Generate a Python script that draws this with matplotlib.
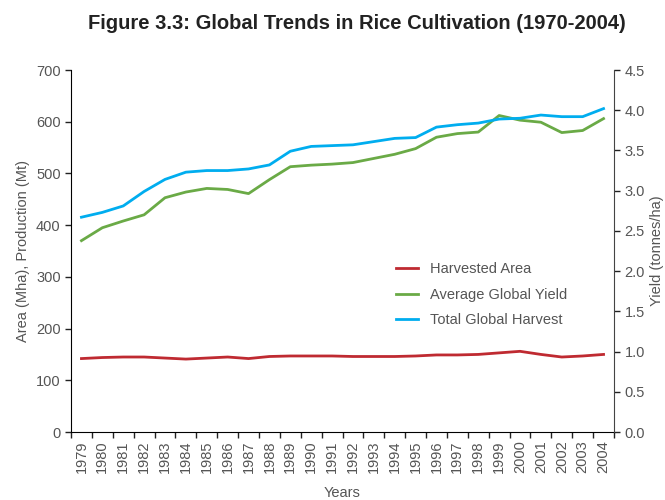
import matplotlib
matplotlib.use("Agg")
import matplotlib.pyplot as plt
import numpy as np
from matplotlib.ticker import FixedLocator, FormatStrFormatter

plt.rcParams['font.family'] = ['Liberation Sans', 'DejaVu Sans']

# --- data ---
years = list(range(1979, 2005))
harvested_area = [142, 144, 145, 145, 143, 141, 143, 145, 142, 146, 147, 147, 147,
                  146, 146, 146, 147, 149, 149, 150, 153, 156, 150, 145, 147, 150]
avg_yield_line = [370, 395, 408, 420, 453, 464, 471, 469, 461, 488, 513, 516, 518,
                  521, 529, 537, 548, 570, 577, 580, 612, 603, 599, 579, 583, 606]
# blue series is drawn against the right (t/ha) axis
total_harvest = [2.67, 2.73, 2.81, 2.99, 3.14, 3.23, 3.25, 3.25, 3.27, 3.32, 3.49, 3.55, 3.56,
                 3.57, 3.61, 3.65, 3.66, 3.79, 3.82, 3.84, 3.89, 3.90, 3.94, 3.92, 3.92, 4.02]

RED = '#bf2a31'
GREEN = '#6aaa46'
BLUE = '#00adef'
TXT = '#555555'

fig = plt.figure(figsize=(6.65, 5.0), dpi=100)
ax = fig.add_axes([0.1068, 0.136, 0.8165, 0.724])
ax2 = ax.twinx()

x = np.arange(len(years))
l1, = ax.plot(x, harvested_area, color=RED, lw=2.0, label='Harvested Area')
l2, = ax.plot(x, avg_yield_line, color=GREEN, lw=2.0, label='Average Global Yield')
l3, = ax2.plot(x, total_harvest, color=BLUE, lw=2.0, label='Total Global Harvest')

ax.set_xlim(-0.5, len(years) - 0.5)
ax.set_ylim(0, 700)
ax2.set_ylim(0, 4.5)

# --- axes formatting ---
ax.set_yticks(np.arange(0, 701, 100))
ax2.set_yticks(np.arange(0, 4.51, 0.5))
ax2.yaxis.set_major_formatter(FormatStrFormatter('%.1f'))

# tick marks between categories, labels centred on each year
ax.xaxis.set_major_locator(FixedLocator(np.arange(-0.5, len(years), 1.0)))
ax.xaxis.set_major_formatter(plt.NullFormatter())
ax.xaxis.set_minor_locator(FixedLocator(x))
ax.set_xticklabels([str(y) for y in years], minor=True, rotation=90)
ax.tick_params(axis='x', which='minor', length=0, pad=6)

for a in (ax, ax2):
    a.tick_params(which='major', length=4, width=1, colors='#222222', labelcolor=TXT,
                  labelsize=10.5)
    a.spines['top'].set_visible(False)
ax.tick_params(axis='x', which='minor', labelcolor=TXT, labelsize=10.5)
ax2.spines['left'].set_visible(False)
ax2.spines['bottom'].set_visible(False)
ax2.spines['right'].set_color('#444444')
ax.spines['right'].set_visible(False)

ax.set_ylabel('Area (Mha), Production (Mt)', color=TXT, fontsize=10.5)
ax2.set_ylabel('Yield (tonnes/ha)', color=TXT, fontsize=10.5)
ax.set_xlabel('Years', color=TXT, fontsize=10.5, labelpad=9)

ax.legend(handles=[l1, l2, l3], loc='upper left', bbox_to_anchor=(0.575, 0.505),
          frameon=False, fontsize=10.5, handlelength=1.5, labelspacing=0.78,
          handletextpad=0.8, labelcolor=TXT)

fig.suptitle('Figure 3.3: Global Trends in Rice Cultivation (1970-2004)',
             fontsize=14.5, fontweight='bold', color='#222222', x=0.537, y=0.972)

fig.savefig('out.png', dpi=100)
